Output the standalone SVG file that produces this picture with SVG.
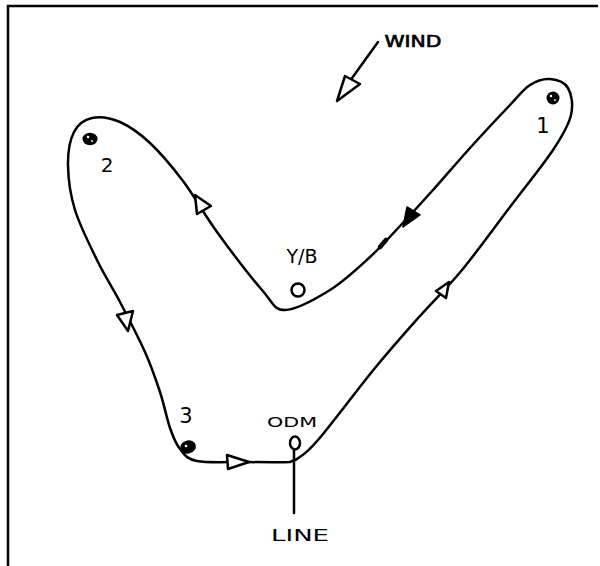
<svg xmlns="http://www.w3.org/2000/svg" width="600" height="566" viewBox="0 0 600 566">
  <style>
    .pen { fill: none; stroke: #000; stroke-width: 2.5; stroke-linecap: round; stroke-linejoin: round; }
    .head { fill: #fff; stroke: #000; stroke-width: 2.5; stroke-linejoin: round; }
    .solid { fill: #000; stroke: #000; stroke-width: 1.5; stroke-linejoin: round; }
    .mark { fill: #000; }
    .hole { fill: #fff; }
    .ring { fill: #fff; stroke: #000; stroke-width: 2.5; }
    .lbl { font-family: "DejaVu Sans", "Liberation Sans", sans-serif; fill: #000; text-anchor: middle; }
  </style>
  <rect x="0" y="0" width="600" height="566" fill="#fff"/>

  <!-- frame: top and left edges only -->
  <path d="M 8,566 L 8,6 L 598,6" fill="none" stroke="#000" stroke-width="2.5"/>

  <!-- course legs and direction marks -->
  <g id="connectors">
    <path class="pen" d="M 297,459
      C 301.7,455.3 305,455.2 318,440
      C 331,424.8 358,388.7 375,368
      C 392,347.3 405.5,332.3 420,316
      C 434.5,299.7 447,288.2 462,270
      C 477,251.8 494.8,227 510,207
      C 525.2,187 542.8,165.3 553,150
      C 563.2,134.7 568.5,125.3 571,115
      C 573.5,104.7 571.5,94 568,88
      C 564.5,82 556.3,79.5 550,79
      C 543.7,78.5 536.7,80.7 530,85
      C 523.3,89.3 520,94.5 510,105
      C 500,115.5 482.8,133.8 470,148
      C 457.2,162.2 444.7,177 433,190
      C 421.3,203 410.5,214.8 400,226
      C 389.5,237.2 381.7,246.3 370,257
      C 358.3,267.7 344.2,281.2 330,290
      C 315.8,298.8 296.3,310 285,310
      C 273.7,310 273.3,303 262,290
      C 250.7,277 230.2,250.2 217,232
      C 203.8,213.8 194.2,195.8 183,181
      C 171.8,166.2 160.5,152.8 150,143
      C 139.5,133.2 129.7,126.2 120,122
      C 110.3,117.8 99.7,116.3 92,118
      C 84.3,119.7 78,124.2 74,132
      C 70,139.8 67.8,152 68,165
      C 68.2,178 70,193.8 75,210
      C 80,226.2 90.5,246.7 98,262
      C 105.5,277.3 112.2,287 120,302
      C 127.8,317 138.3,337 145,352
      C 151.7,367 155.8,379.3 160,392
      C 164.2,404.7 166.7,418.5 170,428
      C 173.3,437.5 175.5,443.5 180,449
      C 184.5,454.5 186.2,458.8 197,461
      C 207.8,463.2 229.5,461.8 245,462
      C 260.5,462.2 281.3,462.5 290,462
      L 297,459"/>
    <!-- start line from the committee boat -->
    <path class="pen" d="M 294,450 L 294,513"/>
    <!-- small tick on the run leg -->
    <path d="M 380,247 L 386,240" stroke="#000" stroke-width="4.5" stroke-linecap="round"/>
    <!-- direction arrows -->
    <polygon class="head" points="195,195 197,214 211,206"/>
    <polygon class="head" points="117,315 133,311 128,331"/>
    <polygon class="head" points="227,455 228,469 249,462"/>
    <polygon class="head" points="449,282 436,291 446,298"/>
    <polygon class="solid" points="403,227 407,207 420,215"/>
    <!-- wind -->
    <path class="pen" d="M 378,42 L 342,92"/>
    <polygon class="head" points="345,76 360,84 337,101"/>
  </g>

  <g id="wind-label">
    <text class="lbl" x="413" y="47" font-size="15" textLength="57" lengthAdjust="spacingAndGlyphs" stroke="#000" stroke-width="0.6">WIND</text>
  </g>

  <g id="mark-1">
    <circle class="mark" cx="553" cy="98" r="6.5"/>
    <circle class="hole" cx="551" cy="96" r="1.2"/>
    <circle class="hole" cx="555" cy="100" r="0.9"/>
    <text class="lbl" x="543" y="133" font-size="21" font-family="Liberation Sans, sans-serif">1</text>
  </g>

  <g id="mark-2">
    <ellipse class="mark" cx="90" cy="139" rx="7.5" ry="6.2"/>
    <circle class="hole" cx="88" cy="137" r="1.3"/>
    <circle class="hole" cx="92" cy="141" r="1"/>
    <text class="lbl" x="107" y="172" font-size="20">2</text>
  </g>

  <g id="mark-3">
    <ellipse class="mark" cx="188" cy="447" rx="8" ry="6.5" transform="rotate(-15 188 447)"/>
    <circle class="hole" cx="186" cy="446" r="1.3"/>
    <text class="lbl" x="186" y="423" font-size="21">3</text>
  </g>

  <g id="mark-yb">
    <circle class="ring" cx="298" cy="290" r="6.5"/>
    <text class="lbl" x="302" y="263" font-size="19">Y/B</text>
  </g>

  <g id="mark-odm">
    <ellipse class="ring" cx="295" cy="443" rx="5" ry="6.5"/>
    <text class="lbl" x="292" y="427" font-size="14" textLength="50" lengthAdjust="spacingAndGlyphs">ODM</text>
  </g>

  <g id="line-label">
    <text class="lbl" x="300" y="541" font-size="15" textLength="58" lengthAdjust="spacingAndGlyphs">LINE</text>
  </g>
</svg>
